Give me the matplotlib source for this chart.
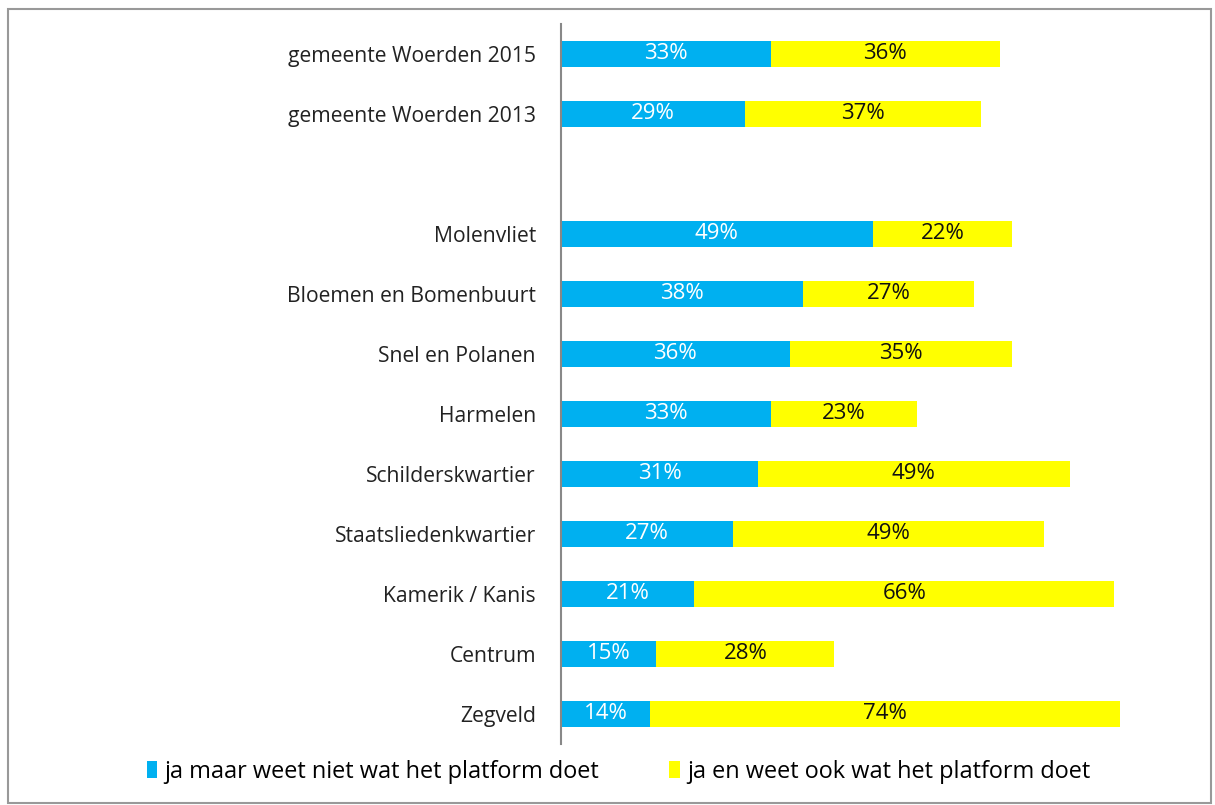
import matplotlib.pyplot as plt
from matplotlib.patches import Rectangle

categories = [
    "gemeente Woerden 2015",
    "gemeente Woerden 2013",
    "",
    "Molenvliet",
    "Bloemen en Bomenbuurt",
    "Snel en Polanen",
    "Harmelen",
    "Schilderskwartier",
    "Staatsliedenkwartier",
    "Kamerik / Kanis",
    "Centrum",
    "Zegveld",
]
weet_niet = [33, 29, None, 49, 38, 36, 33, 31, 27, 21, 15, 14]
weet_wel = [36, 37, None, 22, 27, 35, 23, 49, 49, 66, 28, 74]
series_names = [
    "ja maar weet niet wat het platform doet",
    "ja en weet ook wat het platform doet",
]

BLUE = "#00B0F0"
YELLOW = "#FFFF00"

plt.rcParams["font.family"] = ["Open Sans", "DejaVu Sans"]

fig = plt.figure(figsize=(12.15, 8.05), dpi=100)
ax = fig.add_axes([0.4617, 0.0758, 0.5233, 0.8944])

ys = list(range(len(categories)))
for y, a, b in zip(ys, weet_niet, weet_wel):
    if a is None:
        continue
    ax.barh(y, a, height=0.44, color=BLUE, label=series_names[0] if y == 0 else None)
    ax.barh(y, b, left=a, height=0.44, color=YELLOW,
            label=series_names[1] if y == 0 else None)
    ax.text(a / 2, y, f"{a}%", ha="center", va="center", color="white", fontsize=16)
    ax.text(a + b / 2, y, f"{b}%", ha="center", va="center", color="#111111", fontsize=16)

ax.set_xlim(0, 100)
ax.set_ylim(len(categories) - 0.5, -0.5)
ax.set_yticks(ys)
ax.set_yticklabels(categories, fontsize=15.2, color="#222222")
ax.tick_params(axis="y", length=0, pad=18)
ax.set_xticks([])
for side in ["top", "right", "bottom"]:
    ax.spines[side].set_visible(False)
ax.spines["left"].set_color("#888888")
ax.spines["left"].set_linewidth(1.5)

handles, labels = ax.get_legend_handles_labels()
fig.legend(handles, labels, loc="center", bbox_to_anchor=(0.509, 0.041), ncol=2,
           frameon=False, fontsize=16.9, handlelength=0.45, handleheight=0.75,
           handletextpad=0.3, columnspacing=3.0)

fig.patches.append(Rectangle((8 / 1215, 2 / 805), 1203 / 1215, 794 / 805,
                             transform=fig.transFigure, fill=False,
                             edgecolor="#999999", linewidth=1.5))

fig.savefig("out.png", dpi=100)
